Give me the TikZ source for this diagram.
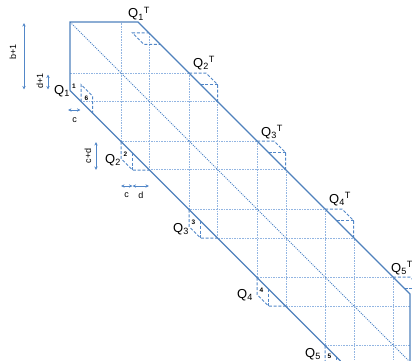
\documentclass[tikz,border=0pt]{standalone}
\usepackage{fontspec}
\setmainfont{Liberation Sans}
\usetikzlibrary{arrows.meta}
\definecolor{bandblue}{HTML}{4F81BD}
\definecolor{markblue}{HTML}{5287C8}
\definecolor{gridblue}{HTML}{92B5E2}
\tikzset{
  bandline/.style={line width=1.1pt,color=bandblue},
  gridline/.style={line width=0.75pt,color=gridblue,dash pattern=on 1.6pt off 1pt},
  diagline/.style={line width=0.75pt,color=markblue,dash pattern=on 1.1pt off 1.1pt},
  markline/.style={line width=1pt,color=markblue,dash pattern=on 3pt off 1.8pt},
  dimarrow/.style={line width=0.8pt,color=markblue,{Stealth[length=3.5pt,width=3.2pt]}-{Stealth[length=3.5pt,width=3.2pt]}},
  qlab/.style={inner sep=0pt,anchor=base west,font=\fontsize{13}{15}\selectfont},
  dimlab/.style={inner sep=0pt,font=\fontsize{9}{10}\selectfont},
  numlab/.style={inner sep=0pt,font=\fontsize{6.5}{7}\selectfont\bfseries}
}
\begin{document}
\begin{tikzpicture}[x=1pt,y=-1pt]
\useasboundingbox (0,0) rectangle (412,361);
% band region, clipped interior
\begin{scope}
\clip (70,22) -- (138,22) -- (410,294) -- (410,361) -- (340.5,361) -- (70,90.5) -- cycle;
% grid, vertical
\foreach \x in {121,149,189,217,257,286,325,354,393}
  \draw[gridline] (\x,0) -- (\x,361);
% grid, horizontal
\foreach \y in {73,101,141,169,209,238,277,306,345}
  \draw[gridline] (60,\y) -- (412,\y);
% main diagonal
\draw[diagline] (70,22) -- (410,362);
% Q1 and Q1T
\draw[markline] (81,101.5) -- (81,84.5) -- (92.5,96) -- (92.5,113);
\draw[markline] (149.5,33) -- (132.5,33) -- (144,44.5) -- (161,44.5);
\end{scope}
\begin{scope}
\clip (0,0) rectangle (412,361);
% lower blocks Q2..Q5
\foreach \X/\Y in {121/141.5,189/209.5,257/277.5,325/345.5}{
  \draw[markline] (\X,\Y) -- ++(0,17) -- ++(11.5,11.5) -- ++(17,0);
  \draw[markline] (\X+11.5,\Y+11.5) -- ++(0,17);
}
% upper blocks Q2T..Q5T
\foreach \X/\Y in {189/73,257/141,325/209,393/277}{
  \draw[markline] (\X,\Y) -- ++(17,0) -- ++(11.5,11.5) -- ++(0,17);
  \draw[markline] (\X+11.5,\Y+11.5) -- ++(17,0);
}
\end{scope}
% band outline
\draw[bandline] (70,90.5) -- (70,22) -- (138,22) -- (410,294) -- (410,361);
\draw[bandline] (70,90.5) -- (340.5,361);
% labels Q
\node[qlab] (q1) at (54,94) {Q\textsubscript{1}};
\node[qlab] (q1t) at (128,18) {Q\textsubscript{1}\textsuperscript{T}};
\node[qlab] (q2) at (105,163) {Q\textsubscript{2}};
\node[qlab] (q2t) at (193,67) {Q\textsubscript{2}\textsuperscript{T}};
\node[qlab] (q3) at (173,232) {Q\textsubscript{3}};
\node[qlab] (q3t) at (261,136) {Q\textsubscript{3}\textsuperscript{T}};
\node[qlab] (q4) at (237,298) {Q\textsubscript{4}};
\node[qlab] (q4t) at (329,203) {Q\textsubscript{4}\textsuperscript{T}};
\node[qlab] (q5) at (305,357) {Q\textsubscript{5}};
\node[qlab] (q5t) at (391,272) {Q\textsubscript{5}\textsuperscript{T}};
% small numbers
\node[numlab] (n1) at (74,86) {1};
\node[numlab] (n6) at (86.5,98.5) {6};
\node[numlab] (n2) at (125.5,154) {2};
\node[numlab] (n3) at (193.5,222) {3};
\node[numlab] (n4) at (261.5,290) {4};
\node[numlab] (n5) at (329.5,356) {5};
% dimension arrows
\coordinate (bt) at (24,23); \coordinate (bb) at (24,89.5);
\draw[dimarrow] (bt) -- (bb);
\node[dimlab,rotate=90] (bl) at (13,52) {b+1};
\coordinate (dt) at (48,74.5); \coordinate (db) at (48,89.5);
\draw[dimarrow] (dt) -- (db);
\node[dimlab,rotate=90] (dl) at (40,81) {d+1};
\coordinate (cl) at (68,110); \coordinate (cr) at (80.5,110);
\draw[dimarrow] (cl) -- (cr);
\node[dimlab] (clab) at (74.5,120) {c};
\coordinate (cdt) at (96,142); \coordinate (cdb) at (96,170);
\draw[dimarrow] (cdt) -- (cdb);
\node[dimlab,rotate=90] (cdl) at (88,156) {c+d};
\coordinate (c2l) at (121,186); \coordinate (c2r) at (132.5,186);
\coordinate (d2r) at (149,186);
\draw[dimarrow] (c2l) -- (c2r);
\draw[dimarrow] (c2r) -- (d2r);
\node[dimlab] (c2lab) at (126.5,195.5) {c};
\node[dimlab] (d2lab) at (141,195) {d};
\end{tikzpicture}
\end{document}
